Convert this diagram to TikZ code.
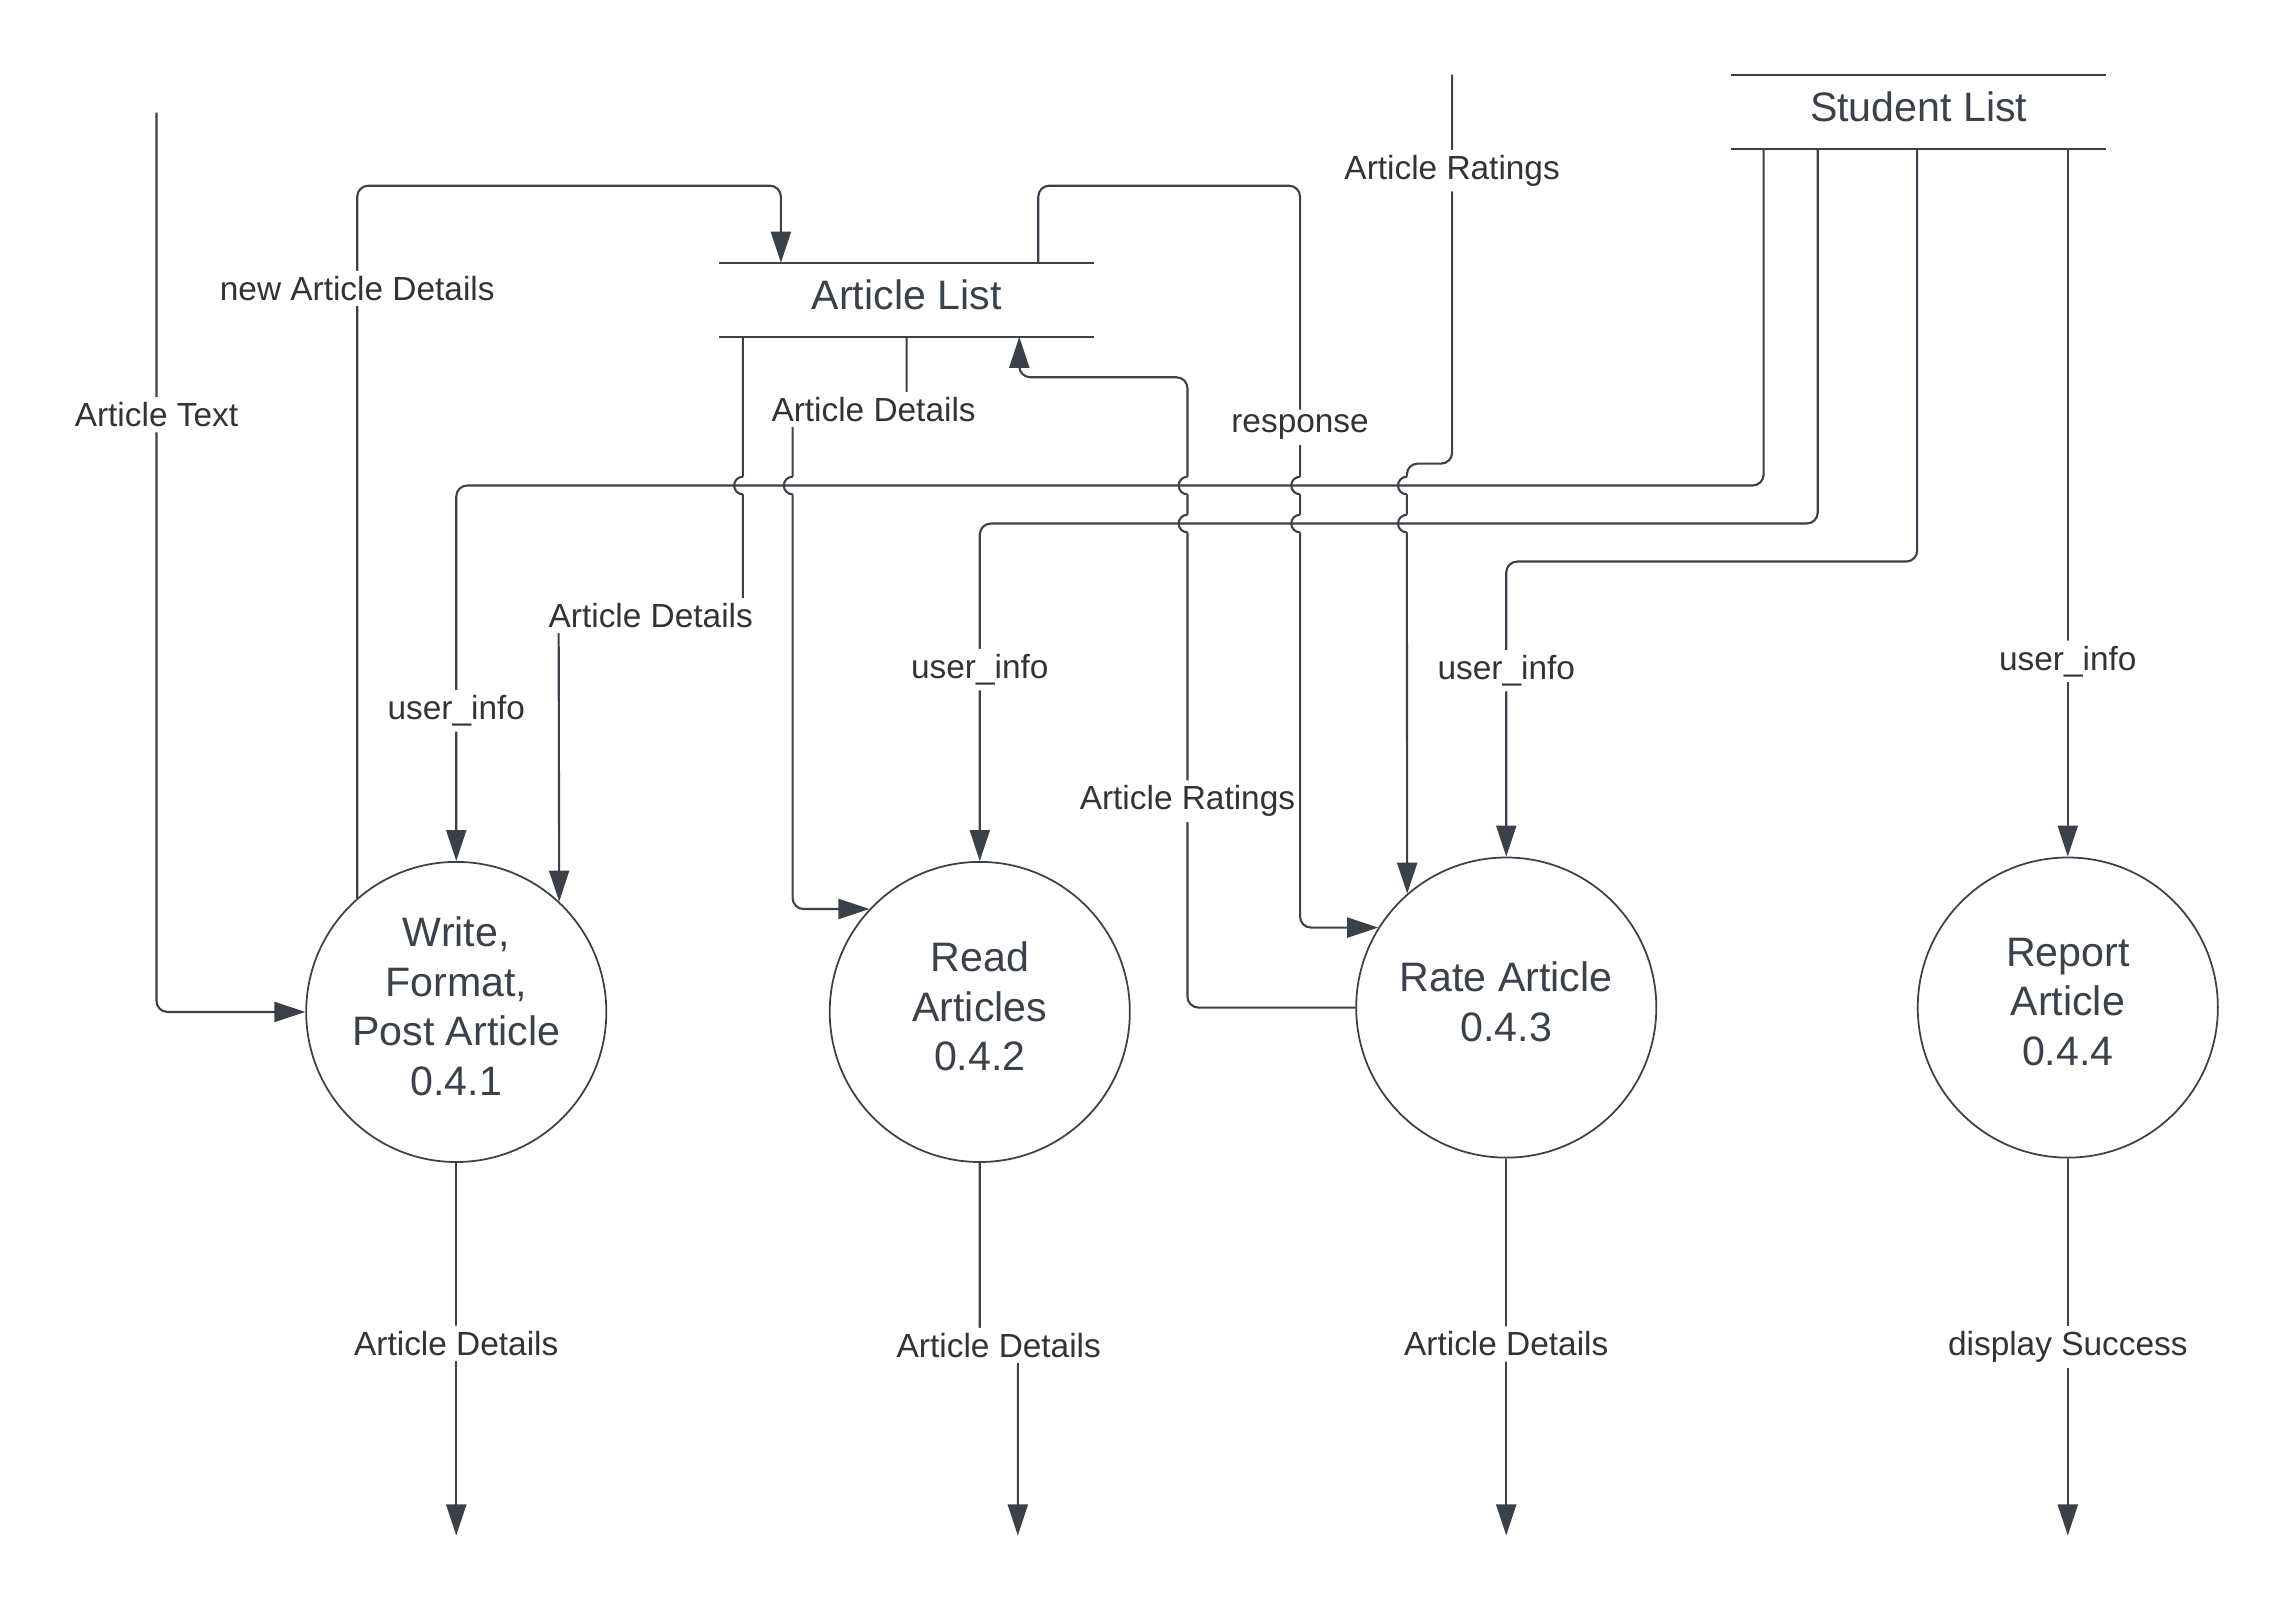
\documentclass[tikz,border=0pt]{standalone}
\usepackage{fontspec}
\setmainfont{Liberation Sans}
\usepackage{tikz}
\usetikzlibrary{arrows.meta, positioning}

\definecolor{linec}{HTML}{3A414A}
\definecolor{labelc}{HTML}{333333}

\begin{document}
\begin{tikzpicture}[x=0.014624cm, y=-0.014624cm, >={Triangle[length=0.31cm,width=0.2cm]},
        every node/.style={text=linec},
        proc/.style={circle, draw=linec, line width=0.5pt, minimum size=3cm, inner sep=0pt, align=center, text depth=3.3pt, font=\fontsize{11.7}{14.1}\selectfont},
        store/.style={minimum width=3.744cm, minimum height=0.74cm, outer sep=0pt, text depth=3.2pt, font=\fontsize{11.7}{14.1}\selectfont},
        flow/.style={->, draw=linec, line width=0.6pt, rounded corners=0.11cm},
        lbl/.style={fill=white, inner sep=1.5pt, text=labelc, font=\fontsize{9.5}{11}\selectfont}]
        \useasboundingbox (0,0) rectangle (1568,1103);

        \node[proc] (write) at (312,692) {Write,\\Format,\\Post Article\\0.4.1};
        \node[proc] (read) at (670,692) {Read\\Articles\\0.4.2};
        \node[proc] (rate) at (1030,689) {Rate Article\\0.4.3};
        \node[proc] (report) at (1414,689) {Report\\Article\\0.4.4};
        \node[store] (artlist) at (620,205) {Article List};
        \node[store] (stulist) at (1312,76.5) {Student List};
        \foreach \s in {artlist, stulist}
            \draw[linec, line width=0.6pt] (\s.north west) -- (\s.north east) (\s.south west) -- (\s.south east);

        \coordinate (txtin) at (107,77);
        \coordinate (ratin) at (993,51);
        \foreach \n/\x in {1/312, 2/696, 3/1030, 4/1414}
            \coordinate (out\n) at (\x,1050);

        % into write
        \draw[flow] (txtin) |- node[lbl,pos=0.168] {Article Text} (write);
        \draw[flow] (write.131) |- node[lbl,pos=0.428] {new Article Details} (534,127) -- (534,0 |- artlist.north);
        \draw[flow] (508,0 |- artlist.south) -- (508,326) (508,338) -- (508,421) -- node[lbl] {Article Details} (382,421) -- (write.47);
        % into read
        \draw[flow] (620,0 |- artlist.south) -- (620,280) -- node[lbl,pos=0.29] {Article Details} (542,280) -- (542,326) (542,338) |- (read.137);
        % rate and article list
        \draw[flow] (rate.west) -| node[lbl,pos=0.717] {Article Ratings} (812,364) (812,352) -- (812,338) (812,326) -- (812,258) -| (697,0 |- artlist.south);
        \draw[flow] (710,0 |- artlist.north) |- (889,127) -- node[lbl,pos=0.83] {response} (889,326) (889,338) -- (889,352) (889,364) |- (rate.148);
        \draw[flow] (ratin) -- node[lbl,pos=0.247] {Article Ratings} (993,317) -| (962,326) (962,338) -- (962,352) (962,364) -- (rate.131);
        % student list
        \draw[flow] (1206,0 |- stulist.south) |- (312,332) -- node[lbl,pos=0.60] {user\_info} (write.north);
        \draw[flow] (1243,0 |- stulist.south) |- (670,358) -- node[lbl,pos=0.433] {user\_info} (read.north);
        \draw[flow] (1311,0 |- stulist.south) |- (1030,384) -- node[lbl,pos=0.37] {user\_info} (rate.north);
        \draw[flow] (1414,0 |- stulist.south) -- node[lbl,pos=0.724] {user\_info} (report.north);
        % outputs
        \draw[flow] (write.south) -- node[lbl,pos=0.484] {Article Details} (out1);
        \draw[flow] (read.south) -- (670,920) -- node[lbl] {Article Details} (696,920) -- (out2);
        \draw[flow] (rate.south) -- node[lbl,pos=0.492] {Article Details} (out3);
        \draw[flow] (report.south) -- node[lbl] {display Success} (out4);

        % line hops
        \foreach \x/\y in {508/332, 542/332, 812/332, 889/332, 962/332, 812/358, 889/358, 962/358}
            \draw[linec, line width=0.6pt] (\x,\y-6) arc[start angle=90, end angle=270, radius=0.088cm];
\end{tikzpicture}
\end{document}
